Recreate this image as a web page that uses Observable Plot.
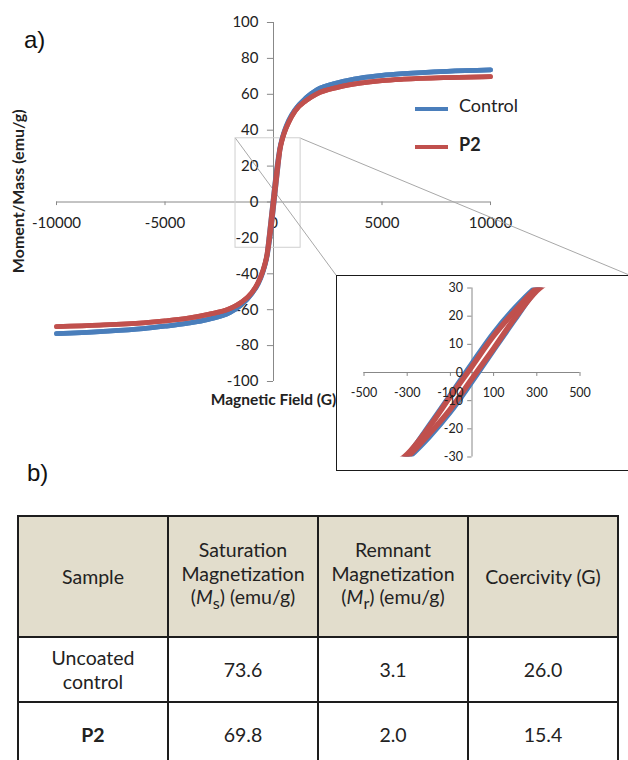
<!DOCTYPE html>
<html><head><meta charset="utf-8">
<script src="https://cdn.jsdelivr.net/npm/d3@7"></script>
<script src="https://cdn.jsdelivr.net/npm/@observablehq/plot@0.6"></script>
<style>
body{margin:0;background:#fff;}
#page{position:relative;width:628px;height:760px;overflow:hidden;font-family:Lato,"Open Sans",sans-serif;color:#222;}
.panel{position:absolute;font-family:"Liberation Sans",Arial,sans-serif;font-size:24px;line-height:1;color:#111;}
#main{position:absolute;left:0;top:0;}
#inset{position:absolute;left:336px;top:275px;width:300px;height:196px;border:1.5px solid #1a1a1a;box-sizing:border-box;background:#fff;}
#inset svg{position:absolute;left:0;top:0;}
.leg{position:absolute;font-size:18px;line-height:1;}
.legline{position:absolute;width:33px;height:4px;}
table{position:absolute;left:17px;top:515px;border-collapse:collapse;font-size:19.5px;color:#222;table-layout:fixed;}
td{border:2px solid #1d1d1d;text-align:center;vertical-align:middle;width:148px;padding:0;line-height:23.5px;}
tr.head td{background:#e2ddcc;height:119px;}
tr.row td{height:63px;}
</style></head><body>
<div id="page">
  <div id="main"></div>
  <div class="panel" style="left:24px;top:28px;">a)</div>
  <div class="legline" style="left:415px;top:107px;background:#4a7ebb"></div>
  <div class="leg" style="left:459px;top:96px;">Control</div>
  <div class="legline" style="left:415px;top:145px;background:#c0504d"></div>
  <div class="leg" style="left:459px;top:135px;font-weight:bold;">P2</div>
  <div id="inset"></div>
  <div class="panel" style="left:27px;top:461px;">b)</div>
  <div id="tablewrap"></div>
</div>
<script>
// ---- data read from the hysteresis loops ----
const fieldG = [-10000,-8000,-6000,-5000,-4000,-3000,-2000,-1500,-1000,-700,-500,-400,-300,-200,-100,0,100,200,300,400,500,700,1000,1500,2000,3000,4000,5000,6000,8000,10000];
// descending-field (upper) branch and ascending-field (lower) branch, emu/g
const controlDown = [-73.3,-72.2,-70.6,-69.2,-67.6,-65.4,-61.5,-57.5,-51,-45,-39,-35,-29.5,-19,-8,3.2,14,23,30.5,35.5,39.5,45.5,51.5,58,62.5,66.5,69,70.5,71.5,72.8,73.6];
const controlUp   = [-73.3,-72.2,-70.6,-69.2,-67.6,-65.4,-61.5,-57.5,-51,-45.5,-39.5,-35.5,-30.5,-23,-14,-3.2,8,19,29.5,35,39,45,51.5,58,62.5,66.5,69,70.5,71.5,72.8,73.6];
const p2Down = [-69.4,-68.6,-67.3,-66.2,-64.8,-62.6,-59.3,-56,-50.5,-44.5,-38.5,-34.5,-29,-19.5,-8.5,2.2,13,22,30,35,38.8,44.5,50.8,56.5,60.3,64,66.2,67.6,68.4,69.3,69.8];
const p2Up   = [-69.4,-68.6,-67.3,-66.2,-64.8,-62.6,-59.3,-56,-50.5,-44.8,-39,-35,-30,-22,-13,-2.2,8.5,19.5,29,34.5,38.5,44.3,50.8,56.5,60.3,64,66.2,67.6,68.4,69.3,69.8];
const seriesNames = ["Control","P2"];
const seriesColors = ["#4a7ebb","#c0504d"];

// axes ticks
const mainXTicks = [-10000,-5000,0,5000,10000];
const mainYTicks = [100,80,60,40,20,0,-20,-40,-60,-80,-100];
const insetXTicks = [-500,-300,-100,100,300,500];
const insetYTicks = [30,20,10,0,-10,-20,-30];
const xTitle = "Magnetic Field (G)";
const yTitle = "Moment/Mass (emu/g)";

// zoom window drawn on the main chart (data units) and the inset corners it leads to
const zoomBox = [{x1:-1750, x2:1250, y1:-25.5, y2:35.5}];
const zoomLinks = [
  {x1:-1750, y1:35.5, x2:2900, y2:-41},
  {x1:1250, y1:35.5, x2:16360, y2:-40.5}
];

// table
const tableHeader = ["Sample","Saturation<br>Magnetization<br>(<i>M</i><sub>s</sub>) (emu/g)","Remnant<br>Magnetization<br>(<i>M</i><sub>r</sub>) (emu/g)","Coercivity (G)"];
const tableSamples = ["Uncoated<br>control","<b>P2</b>"];
const tableMs = ["73.6","69.8"];
const tableMr = ["3.1","2.0"];
const tableHc = ["26.0","15.4"];

// build long data
const loops = [];
[[seriesNames[0], controlDown, controlUp],[seriesNames[1], p2Down, p2Up]].forEach(([name, down, up]) => {
  fieldG.forEach((h,i) => loops.push({series:name, branch:"down", h, m:down[i]}));
  fieldG.forEach((h,i) => loops.push({series:name, branch:"up", h, m:up[i]}));
});

const axisGray = "#888";
const txt = "#222";

const main = Plot.plot({
  width: 628, height: 420,
  marginLeft: 56, marginRight: 138, marginTop: 22, marginBottom: 39,
  x: {domain: [-10000, 10000], axis: null},
  y: {domain: [-100, 100], axis: null},
  color: {domain: seriesNames, range: seriesColors},
  style: {fontFamily: "Lato, 'Open Sans', sans-serif", fontSize: "15px", color: txt, background: "transparent", overflow: "visible"},
  marks: [
    Plot.ruleY([0], {stroke: axisGray}),
    Plot.ruleX([0], {stroke: axisGray}),
    Plot.ruleX(mainXTicks, {x: d => d, y1: 0, y2: -2, stroke: axisGray}),
    Plot.ruleY(mainYTicks, {y: d => d, x1: 0, x2: -280, stroke: axisGray}),
    Plot.text(mainXTicks, {x: d => d, y: 0, dy: 21, text: d => String(d), fill: txt, fontSize: 15}),
    Plot.text(mainYTicks, {x: 0, y: d => d, dx: -15, textAnchor: "end", text: d => String(d), fill: txt, fontSize: 15}),
    Plot.rect(zoomBox, {x1: "x1", x2: "x2", y1: "y1", y2: "y2", fill: "none", stroke: "#cfcfcf", strokeWidth: 1}),
    Plot.link(zoomLinks, {x1: "x1", y1: "y1", x2: "x2", y2: "y2", stroke: "#a8a8a8", strokeWidth: 1}),
    Plot.line(loops, {x: "h", y: "m", z: d => d.series + d.branch, stroke: "series", strokeWidth: 4.8, curve: "monotone-x"}),
    Plot.text([yTitle], {x: -10000, y: 6, dx: -38, rotate: -90, text: d => d, fontWeight: "bold", fontSize: 16, fill: txt}),
    Plot.text([xTitle], {x: 0, y: -100, dy: 19, text: d => d, fontWeight: "bold", fontSize: 15.5, fill: txt})
  ]
});
document.getElementById("main").appendChild(main);

const inset = Plot.plot({
  width: 297, height: 193,
  marginLeft: 26.5, marginRight: 54.5, marginTop: 11.5, marginBottom: 12.5,
  x: {domain: [-500, 500], axis: null},
  y: {domain: [-30, 30], axis: null},
  color: {domain: seriesNames, range: seriesColors},
  style: {fontFamily: "Lato, 'Open Sans', sans-serif", fontSize: "12.5px", color: txt, background: "transparent", overflow: "visible"},
  marks: [
    Plot.ruleY([0], {stroke: axisGray}),
    Plot.ruleX([0], {stroke: axisGray}),
    Plot.ruleX(insetXTicks, {x: d => d, y1: 0, y2: -1.4, stroke: axisGray}),
    Plot.ruleY(insetYTicks, {y: d => d, x1: 0, x2: -20, stroke: axisGray}),
    Plot.line(loops, {x: "h", y: "m", z: d => d.series + d.branch, stroke: "series", strokeWidth: 5.5, curve: "monotone-x", clip: true}),
    Plot.text(insetXTicks, {x: d => d, y: 0, dy: 20, text: d => String(d), fill: txt, fontSize: 12.5}),
    Plot.text(insetYTicks, {x: 0, y: d => d, dx: -9, textAnchor: "end", text: d => String(d), fill: txt, fontSize: 12.5})
  ]
});
document.getElementById("inset").appendChild(inset);

// table b)
let html = "<table><tr class='head'>" + tableHeader.map(h => `<td>${h}</td>`).join("") + "</tr>";
tableSamples.forEach((s, i) => {
  html += `<tr class='row'><td>${s}</td><td>${tableMs[i]}</td><td>${tableMr[i]}</td><td>${tableHc[i]}</td></tr>`;
});
html += "</table>";
document.getElementById("tablewrap").innerHTML = html;
</script>
</body></html>
